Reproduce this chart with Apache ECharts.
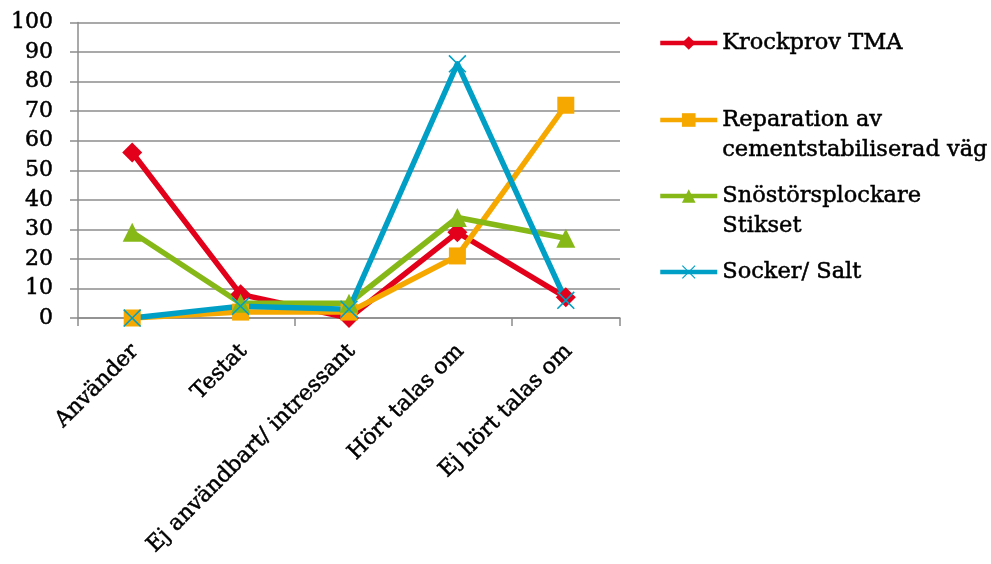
<!DOCTYPE html>
<html>
<head>
<meta charset="utf-8">
<script src="https://cdn.jsdelivr.net/npm/echarts@6/dist/echarts.min.js"></script>
<style>
  html, body { margin: 0; padding: 0; background: #fff; }
  #chart { width: 991px; height: 564px; }
</style>
</head>
<body>
<div id="chart"></div>
<script>
// Survey answers per method
const categories = ['Använder', 'Testat', 'Ej användbart/ intressant', 'Hört talas om', 'Ej hört talas om'];
const krockprov = [56, 8, 0, 29, 7];
const reparation = [0, 2, 2, 21, 72];
const snostor = [29, 5, 5, 34, 27];
const socker = [0, 4, 3, 86, 6];
const yTicks = { min: 0, max: 100, step: 10 };

const FONT = 'DejaVu Serif';
const GRID_GRAY = '#8c8c8c';
// slightly heavier glyphs
const TEXT_WEIGHT = { textBorderColor: '#000', textBorderWidth: 0.5 };
const crossPath = 'path://M0,1 L1,0 L8,7 L15,0 L16,1 L9,8 L16,15 L15,16 L8,9 L1,16 L0,15 L7,8 Z';

const seriesDefs = [
  { name: 'Krockprov TMA', label: 'Krockprov TMA', data: krockprov, color: '#e2001a', symbol: 'diamond', size: 20 },
  { name: 'Reparation av cementstabiliserad väg', label: '\nReparation av\ncementstabiliserad väg', data: reparation, color: '#f6a800', symbol: 'rect', size: 17 },
  { name: 'Snöstörsplockare Stikset', label: '\nSnöstörsplockare\nStikset', data: snostor, color: '#86b817', symbol: 'triangle', size: 19 },
  { name: 'Socker/ Salt', label: 'Socker/ Salt', data: socker, color: '#00a0c6', symbol: crossPath, size: 18 }
];
// first-line centres of the legend entries
const legendRows = [43, 120, 196, 272];

const chart = echarts.init(document.getElementById('chart'), null, { renderer: 'canvas' });

const option = {
  backgroundColor: '#fff',
  animation: false,
  grid: [
    { left: 78, right: 371, top: 22.5, bottom: 246 },
    { left: 81, right: 368, top: 22.5, bottom: 246 }
  ],
  xAxis: [
    {
      type: 'category', gridIndex: 0, data: categories, boundaryGap: true,
      axisLine: { show: true, lineStyle: { color: GRID_GRAY, width: 1.5 } },
      axisTick: { show: true, length: 8, lineStyle: { color: GRID_GRAY, width: 1.5 } },
      axisLabel: { show: false },
      splitLine: { show: false }
    },
    {
      type: 'category', gridIndex: 1, data: categories, boundaryGap: true,
      axisLine: { show: false }, axisTick: { show: false }, splitLine: { show: false },
      axisLabel: Object.assign({
        show: true, rotate: 45, margin: 30, interval: 0, hideOverlap: false,
        color: '#000', fontFamily: FONT, fontSize: 22
      }, TEXT_WEIGHT)
    }
  ],
  yAxis: [
    {
      type: 'value', gridIndex: 0, min: yTicks.min, max: yTicks.max, interval: yTicks.step,
      axisLine: { show: true, lineStyle: { color: GRID_GRAY, width: 1.5 } },
      axisTick: { show: true, length: 8, lineStyle: { color: GRID_GRAY, width: 1.5 } },
      splitLine: { show: true, lineStyle: { color: GRID_GRAY, width: 1.5 } },
      axisLabel: Object.assign({ color: '#000', fontFamily: FONT, fontSize: 22, margin: 25 }, TEXT_WEIGHT)
    },
    {
      type: 'value', gridIndex: 1, min: yTicks.min, max: yTicks.max, show: false
    }
  ],
  legend: seriesDefs.map((s, i) => {
    const lines = s.label.split('\n').length;
    return {
      data: [s.name],
      left: 658,
      top: legendRows[i] - (lines > 1 ? 45 : 15),
      padding: 0,
      itemWidth: 57,
      itemHeight: 17,
      selectedMode: false,
      formatter: () => s.label,
      lineStyle: { width: 4.5 },
      textStyle: Object.assign({ color: '#000', fontFamily: FONT, fontSize: 22.5, lineHeight: 30 }, TEXT_WEIGHT)
    };
  }),
  series: seriesDefs.map(s => ({
    name: s.name,
    type: 'line',
    xAxisIndex: 0,
    yAxisIndex: 0,
    data: s.data,
    symbol: s.symbol,
    symbolSize: s.size,
    showAllSymbol: true,
    color: s.color,
    lineStyle: { color: s.color, width: 5.5, join: 'round' },
    itemStyle: { color: s.color, borderWidth: 0 },
    emphasis: { disabled: true }
  }))
};

chart.setOption(option);
</script>
</body>
</html>
